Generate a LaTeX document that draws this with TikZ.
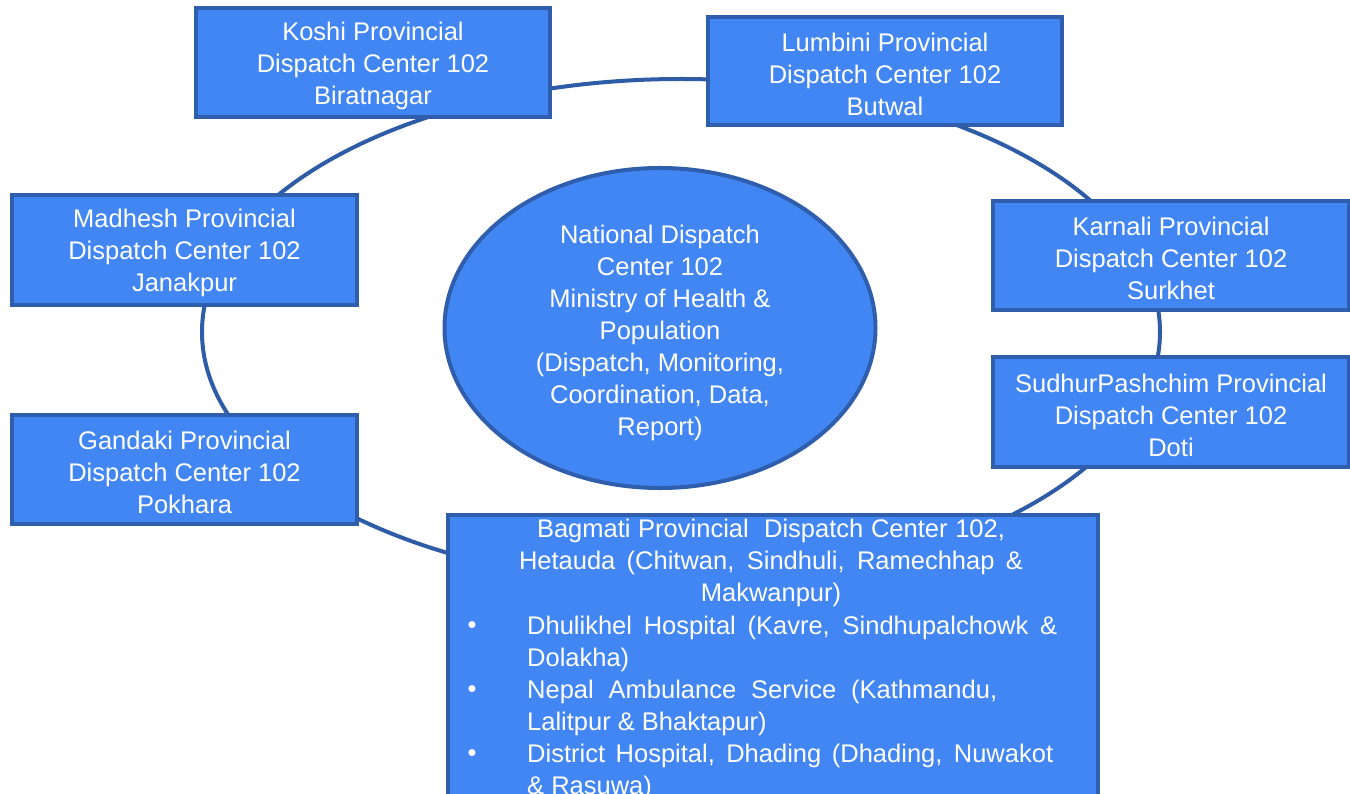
\documentclass[tikz,border=0pt]{standalone}
\usepackage{fontspec}
\setmainfont{Liberation Sans}
\usetikzlibrary{shapes.geometric}
\definecolor{boxfill}{RGB}{66,134,244}
\definecolor{boxline}{RGB}{47,94,172}
\definecolor{ringline}{RGB}{46,92,166}
\newcommand{\mytopstrut}[1]{\rule{0pt}{#1}}
\begin{document}
\begin{tikzpicture}[x=1pt,y=-1pt,
  txt/.style={text=white, inner sep=0pt, font=\fontsize{25.5}{32}\selectfont},
  prov/.style={txt, draw=boxline, fill=boxfill, line width=4pt, align=center},
  ringstyle/.style={ellipse, draw=ringline, line width=4pt, inner sep=0pt},
  bulletline/.style={txt, anchor=west}
]
\useasboundingbox (0,0) rectangle (1350,794);
\clip (0,0) rectangle (1350,794);

% ring behind the boxes
\node[ringstyle, minimum width=958pt, minimum height=506pt] (ring) at (681,332) {};

\node[prov, minimum width=354pt, minimum height=109pt] (koshi) at (373,62.5)
  {\mytopstrut{25pt}Koshi Provincial\\Dispatch Center 102\\Biratnagar};
\node[prov, minimum width=354pt, minimum height=108pt] (lumbini) at (885,71)
  {\mytopstrut{25pt}Lumbini Provincial\\Dispatch Center 102\\Butwal};
\node[prov, minimum width=345pt, minimum height=110pt] (madhesh) at (184.5,250)
  {\mytopstrut{25pt}Madhesh Provincial\\Dispatch Center 102\\Janakpur};
\node[prov, minimum width=356pt, minimum height=109pt] (karnali) at (1171,255.5)
  {\mytopstrut{25pt}Karnali Provincial\\Dispatch Center 102\\Surkhet};
\node[prov, minimum width=356pt, minimum height=110pt] (sudhur) at (1171,412)
  {\mytopstrut{25pt}SudhurPashchim Provincial\\Dispatch Center 102\\Doti};
\node[prov, minimum width=345pt, minimum height=109pt] (gandaki) at (184.5,469.5)
  {\mytopstrut{25pt}Gandaki Provincial\\Dispatch Center 102\\Pokhara};

\node[prov, ellipse, minimum width=431pt, minimum height=266pt] (national) at (660,328)
  {\mytopstrut{29pt}National Dispatch\\Center 102\\Ministry of Health \&\\Population\\(Dispatch, Monitoring,\\Coordination, Data,\\Report)};

% Bagmati box (runs off the bottom)
\node[prov, minimum width=650pt, minimum height=320pt, anchor=north west] (bagmati) at (446,513) {};
\node[txt, align=center] (bagtitle) at (771,563)
  {\makebox[468pt][s]{Bagmati Provincial\ \ Dispatch Center 102,}\\
   \makebox[504pt][s]{Hetauda (Chitwan, Sindhuli, Ramechhap \&}\\
   Makwanpur)};
\node[txt] (b1) at (472,628) {•};
\node[txt] (b2) at (472,692) {•};
\node[txt] (b3) at (472,756) {•};
\node[bulletline] (i1a) at (527,628) {\makebox[530pt][s]{Dhulikhel Hospital (Kavre, Sindhupalchowk \&}};
\node[bulletline] (i1b) at (527,660) {Dolakha)};
\node[bulletline] (i2a) at (527,692) {\makebox[470pt][s]{Nepal Ambulance Service (Kathmandu,}};
\node[bulletline] (i2b) at (527,724) {Lalitpur \& Bhaktapur)};
\node[bulletline] (i3a) at (527,756) {\makebox[526pt][s]{District Hospital, Dhading (Dhading, Nuwakot}};
\node[bulletline] (i3b) at (527,788) {\& Rasuwa)};
\end{tikzpicture}
\end{document}
